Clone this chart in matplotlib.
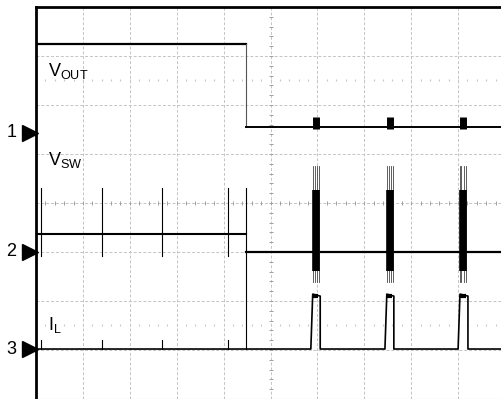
import numpy as np
import matplotlib.pyplot as plt

plt.rcParams['font.family'] = ['Liberation Sans', 'DejaVu Sans']
plt.rcParams['mathtext.fontset'] = 'custom'
plt.rcParams['mathtext.rm'] = 'Liberation Sans'

# screen is 10 x 8 divisions; times and levels are in divisions
step_t = 4.48
burst_t = [5.97, 7.55, 9.10]

vout_levels = [7.24, 5.55]
vout_bump = 5.76

vsw_levels = [3.37, 3.00]
vsw_spike_t = [0.11, 1.41, 2.69, 4.09]
vsw_spike_range = [2.92, 4.31]
vsw_burst_core = [2.62, 4.27]
vsw_burst_range = [2.39, 4.76]

il_base = 1.02
il_top = [2.14, 2.10]
il_rise = [5.88, 7.46, 9.02]
il_fall = [6.06, 7.63, 9.21]
il_tick = 1.20

channel_names = ["1", "2", "3"]
channel_pos = [5.43, 3.00, 1.02]
trace_labels = [r"$\mathregular{V_{OUT}}$", r"$\mathregular{V_{SW}}$", r"$\mathregular{I_L}$"]
label_pos = [6.69, 4.88, 1.51]

fig = plt.figure(figsize=(5.01, 3.99), dpi=100)
ax = fig.add_axes([36 / 501, 0, 469 / 501, 392 / 399])
ax.set_xlim(0, 10)
ax.set_ylim(0, 8)
ax.set_xticks([])
ax.set_yticks([])
for s in ["left", "top"]:
    ax.spines[s].set_linewidth(2)
ax.spines["bottom"].set_color("#cccccc")
ax.spines["right"].set_visible(False)

# graticule
grid_kw = dict(color="#c4c4c4", lw=0.7, ls=(0, (3, 2)), zorder=0)
for gx in range(1, 10):
    ax.axvline(gx, **grid_kw)
for gy in range(1, 8):
    ax.axhline(gy, **grid_kw)
minor = np.arange(0.2, 10, 0.2)
ax.plot(minor, np.full_like(minor, 4), ls="none", marker="|", ms=3, color="#a0a0a0", mew=0.7)
minor_y = np.arange(0.2, 8, 0.2)
ax.plot(np.full_like(minor_y, 5), minor_y, ls="none", marker="_", ms=3, color="#a0a0a0", mew=0.7)
for gy in [6.51, 1.51]:
    ax.plot(minor, np.full_like(minor, gy), ls="none", marker="|", ms=1.2, color="#c8c8c8", mew=0.8)

# VOUT
ax.plot([0, step_t], [vout_levels[0]] * 2, color="black", lw=1.6)
ax.plot([step_t, step_t], vout_levels, color="#555555", lw=0.8)
ax.plot([step_t, 10], [vout_levels[1]] * 2, color="black", lw=1.4)
ax.vlines(burst_t, vout_levels[1] - 0.03, vout_bump, color="black", lw=5, zorder=3)

# VSW
ax.plot([0, step_t], [vsw_levels[0]] * 2, color="black", lw=1.5)
ax.plot([step_t, 10], [vsw_levels[1]] * 2, color="black", lw=1.6)
for st in vsw_spike_t:
    ax.plot([st, st], vsw_spike_range, color="black", lw=0.8)
    ax.plot([st, st], [il_base, il_tick], color="black", lw=0.8)
ax.plot([step_t, step_t], [il_base, vsw_spike_range[1]], color="black", lw=0.8)
for b in burst_t:
    for dx in [-0.07, -0.03, 0.02, 0.06]:
        ax.plot([b + dx, b + dx], vsw_burst_range, color="#444444", lw=0.6, zorder=3)
ax.vlines(burst_t, vsw_burst_core[0], vsw_burst_core[1], color="black", lw=5.5, zorder=4)

# IL
t = [0]
v = [il_base]
for r, f in zip(il_rise, il_fall):
    t += [r - 0.02, r + 0.02, f, f]
    v += [il_base, il_top[0], il_top[1], il_base]
t.append(10)
v.append(il_base)
ax.plot(t, v, color="black", lw=1.2)
for r in il_rise:
    ax.plot([r + 0.02, r + 0.14], [il_top[0] - 0.03] * 2, color="black", lw=3, solid_capstyle="butt")

# channel markers and labels
for name, y in zip(channel_names, channel_pos):
    ax.plot(-0.13, y, marker=">", ms=11, color="black", clip_on=False)
    ax.text(-0.52, y, name, fontsize=13, ha="center", va="center", clip_on=False)
for lab, y in zip(trace_labels, label_pos):
    ax.text(0.25, y, lab, fontsize=13, ha="left", va="center")

fig.savefig("out.png", dpi=100)
